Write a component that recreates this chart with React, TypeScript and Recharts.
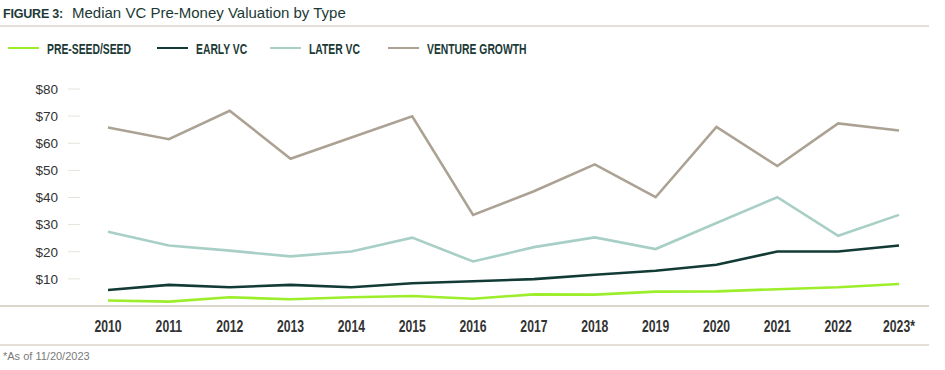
import { LineChart, Line, XAxis, YAxis } from "recharts";

const years = ["2010", "2011", "2012", "2013", "2014", "2015", "2016", "2017", "2018", "2019", "2020", "2021", "2022", "2023*"];
const preSeed = [2.0, 1.6, 3.2, 2.5, 3.2, 3.7, 2.7, 4.3, 4.2, 5.3, 5.4, 6.2, 6.9, 8.1];
const earlyVc = [5.9, 7.8, 6.9, 7.8, 6.9, 8.4, 9.1, 9.9, 11.5, 13.0, 15.2, 20.1, 20.1, 22.3];
const laterVc = [27.4, 22.3, 20.4, 18.3, 20.1, 25.2, 16.4, 21.7, 25.3, 21.0, 30.6, 40.1, 25.9, 33.6];
const ventureGrowth = [65.8, 61.5, 72.0, 54.3, 62.1, 69.9, 33.6, 42.3, 52.2, 40.1, 66.0, 51.6, 67.3, 64.7];
const yTicks = [10, 20, 30, 40, 50, 60, 70, 80];

const series = [
  { key: "preSeed", name: "PRE-SEED/SEED", color: "#9cee2a", values: preSeed },
  { key: "earlyVc", name: "EARLY VC", color: "#123b36", values: earlyVc },
  { key: "laterVc", name: "LATER VC", color: "#a8cfc6", values: laterVc },
  { key: "ventureGrowth", name: "VENTURE GROWTH", color: "#aca294", values: ventureGrowth },
];

const data = years.map((year, i) => {
  const row: Record<string, string | number> = { year };
  series.forEach((s) => (row[s.key] = s.values[i]));
  return row;
});

const sans = '"Liberation Sans", Arial, sans-serif';
const legendX = [8, 157, 270, 388];

// condensed bold year labels (no narrow font installed, so squeeze horizontally)
function YearTick(props: any) {
  const { x, y, payload } = props;
  return (
    <text
      transform={`translate(${x},${y}) scale(0.74,1)`}
      textAnchor="middle"
      fill="#333"
      fontSize={16.5}
      fontWeight={700}
      fontFamily={sans}
    >
      {payload.value}
    </text>
  );
}

export default function App() {
  return (
    <div
      style={{
        position: "absolute",
        left: 0,
        top: 0,
        width: 945,
        height: 370,
        background: "#fff",
        fontFamily: sans,
      }}
    >
      <div style={{ position: "absolute", left: 3, top: 4, display: "flex", alignItems: "baseline", color: "#1b3a35" }}>
        <span style={{ fontWeight: 700, fontSize: 12.5, letterSpacing: -0.2 }}>FIGURE 3:</span>
        <span style={{ fontSize: 15, marginLeft: 9 }}>Median VC Pre-Money Valuation by Type</span>
      </div>
      <div style={{ position: "absolute", left: 0, top: 25, width: 929, height: 2, background: "#e4e0d8" }} />

      {series.map((s, i) => (
        <div key={s.key} style={{ position: "absolute", left: legendX[i], top: 40, height: 16, display: "flex", alignItems: "center" }}>
          <div style={{ width: 31, height: 2.5, background: s.color }} />
          <span
            style={{
              marginLeft: 8,
              display: "inline-block",
              whiteSpace: "nowrap",
              transform: "scaleX(0.69)",
              transformOrigin: "left center",
              fontWeight: 700,
              fontSize: 15,
              color: "#1b3a35",
            }}
          >
            {s.name}
          </span>
        </div>
      ))}

      <div style={{ position: "absolute", left: 0, top: 305, width: 929, height: 2, background: "#ddd5c8" }} />
      <div style={{ position: "absolute", left: 0, top: 344, width: 929, height: 2, background: "#e4e0d8" }} />
      <div style={{ position: "absolute", left: 3, top: 350, fontSize: 11, color: "#7a7a7a" }}>*As of 11/20/2023</div>

      <div style={{ position: "absolute", left: 0, top: 0 }}>
        <LineChart width={945} height={370} data={data} margin={{ top: 89, right: 16, bottom: 34, left: 0 }}>
          <XAxis
            dataKey="year"
            height={30}
            axisLine={false}
            tickLine={false}
            tickSize={0}
            tickMargin={26}
            padding={{ left: 28, right: 30 }}
            interval={0}
            tick={<YearTick />}
          />
          <YAxis
            width={80}
            domain={[0, 80]}
            ticks={yTicks}
            axisLine={false}
            tickSize={12}
            tickMargin={10}
            tickLine={{ stroke: "#e6e2da" }}
            tickFormatter={(v: number) => `$${v}`}
            tick={{ fill: "#333", fontSize: 13.5, fontFamily: sans }}
          />
          {series.map((s) => (
            <Line
              key={s.key}
              dataKey={s.key}
              name={s.name}
              type="linear"
              stroke={s.color}
              strokeWidth={2.6}
              dot={false}
              isAnimationActive={false}
            />
          ))}
        </LineChart>
      </div>
    </div>
  );
}
